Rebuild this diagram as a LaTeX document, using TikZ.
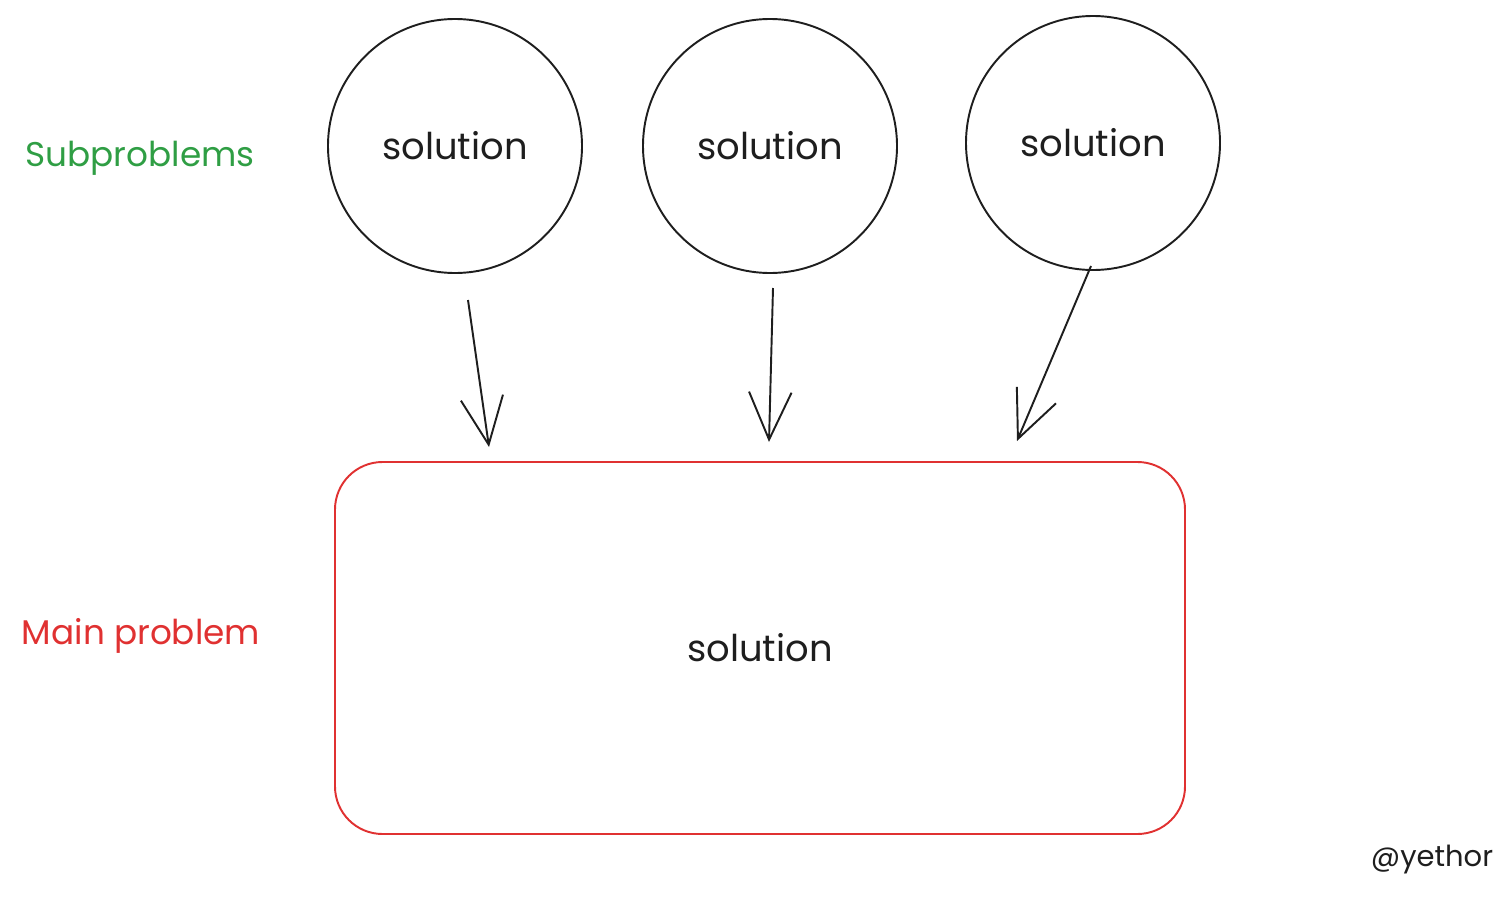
\documentclass[tikz,border=0pt]{standalone}
\usepackage{fontspec}
\setmainfont{Poppins}
\usetikzlibrary{positioning,
        shapes,
        arrows.meta}
\usepackage{xcolor}
\definecolor{inkgreen}{HTML}{2F9E44}
\definecolor{inkred}{HTML}{E03131}
\definecolor{ink}{HTML}{1E1E1E}

\tikzset{
    subsol/.style={circle,draw=ink,line width=1.1pt,minimum size=254*0.02cm,inner sep=0pt,
        font=\fontsize{21}{24}\selectfont,text=ink},
    mainsol/.style={rectangle,rounded corners=0.95cm,draw=inkred,line width=1.1pt,
        minimum width=850*0.02cm,minimum height=372*0.02cm,
        font=\fontsize{21}{24}\selectfont,text=ink},
    rowlabel/.style={font=\fontsize{19.5}{23}\selectfont},
    arr/.style={draw=ink,line width=1.1pt,-{Straight Barb[length=0.95cm,width=0.85cm,line width=1.1pt]}}
}

\begin{document}
\begin{tikzpicture}[x=0.02cm,y=-0.02cm]
        \useasboundingbox (0,0) rectangle (1512,899);

        \node [rowlabel,text=inkgreen] (sublabel) at (140,158) {Subproblems};
        \node [rowlabel,text=inkred] (mainlabel) at (141,636) {Main problem};

        \node [subsol] (sub1) at (455,146) {solution};
        \node [subsol] (sub2) at (770,146) {solution};
        \node [subsol] (sub3) at (1093,143) {solution};

        \node [mainsol] (main) at (760,648) {solution};

        \coordinate (s1) at (468,300);
        \coordinate (e1) at (489,447);
        \coordinate (s2) at (773,288);
        \coordinate (e2) at (769,442);
        \coordinate (s3) at (1091,266);
        \coordinate (e3) at (1017,441);

        \draw [arr] (s1) -- (e1);
        \draw [arr] (s2) -- (e2);
        \draw [arr] (s3) -- (e3);

        \node [font=\fontsize{16.5}{20}\selectfont,text=ink] (handle) at (1432,860) {@yethor};
    \end{tikzpicture}
\end{document}
